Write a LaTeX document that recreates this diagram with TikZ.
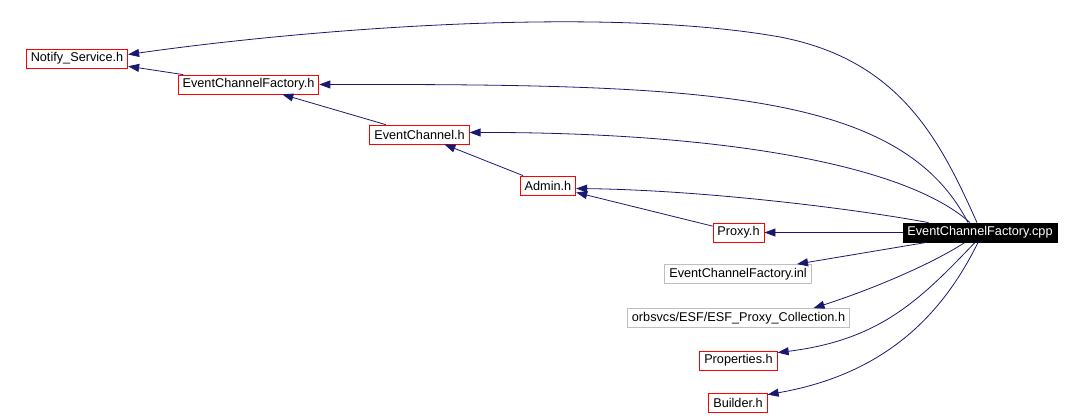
\documentclass[tikz,border=0pt]{standalone}
\usepackage{fontspec}
\setmainfont{Liberation Sans}
\usetikzlibrary{arrows.meta}
\definecolor{edgeblue}{RGB}{25,25,112}
\definecolor{boxred}{RGB}{255,0,0}
\definecolor{boxgray}{RGB}{191,191,191}
\begin{document}
\begin{tikzpicture}[
        x=1pt, y=-1pt,
        hdr/.style={rectangle, draw=boxred, line width=0.8pt, fill=white, inner xsep=4.5pt, inner ysep=0pt, minimum height=19pt},
        ext/.style={hdr, draw=boxgray},
        src/.style={hdr, draw=black, fill=black, text=white},
        edge/.style={->, line width=0.8pt, draw=edgeblue, >={Triangle[length=11pt,width=8pt]}, color=edgeblue},
        font=\fontsize{12.7}{14}\selectfont
    ]
    \useasboundingbox (0,0) rectangle (1084,415);

    % Headers
    \node[hdr] (notify) at (77,58.5) {Notify\_Service.h};
    \node[hdr] (ecfh) at (248.5,84.5) {EventChannelFactory.h};
    \node[hdr] (ech) at (419.5,134.5) {EventChannel.h};
    \node[hdr] (admin) at (548,185.5) {Admin.h};
    \node[hdr] (proxy) at (738.5,232.5) {Proxy.h};
    \node[ext] (inl) at (738,274) {EventChannelFactory.inl};
    \node[ext] (esf) at (738.5,318) {orbsvcs/ESF/ESF\_Proxy\_Collection.h};
    \node[hdr] (props) at (738.5,360.5) {Properties.h};
    \node[hdr] (builder) at (738,402.5) {Builder.h};

    % Source file
    \node[src] (cpp) at (980,232.5) {EventChannelFactory.cpp};

    % Includes between headers
    \draw[edge] (ecfh) -- (notify);
    \draw[edge] (ech) -- (ecfh);
    \draw[edge] (admin) -- (ech);
    \draw[edge] (proxy) -- (admin);

    % Includes of the source file
    \draw[edge] ([xshift=-3pt]cpp.north) .. controls (940,140) and (900,60) .. (780,37)
        .. controls (600,5) and (300,30) .. ([yshift=4pt]notify.east);
    \draw[edge] ([xshift=-12pt]cpp.north) .. controls (900,90) and (700,84) .. (ecfh.east);
    \draw[edge] ([xshift=-10pt]cpp.north) .. controls (900,160) and (700,132) .. ([yshift=2pt]ech.east);
    \draw[edge] ([xshift=26pt]cpp.north west) .. controls (850,208) and (700,190) .. ([yshift=-3pt]admin.east);
    \draw[edge] (cpp) -- (proxy);
    \draw[edge] ([xshift=24pt]cpp.south west) -- ([xshift=59pt]inl.north);
    \draw[edge] ([xshift=-15pt]cpp.south) .. controls (930,265) and (870,290) .. ([xshift=75pt]esf.north);
    \draw[edge] ([xshift=-5pt]cpp.south) .. controls (920,300) and (880,340) .. ([yshift=-2pt]props.north east);
    \draw[edge] ([xshift=-2pt]cpp.south) .. controls (940,320) and (880,375) .. ([yshift=-2pt]builder.north east);

\end{tikzpicture}
\end{document}
